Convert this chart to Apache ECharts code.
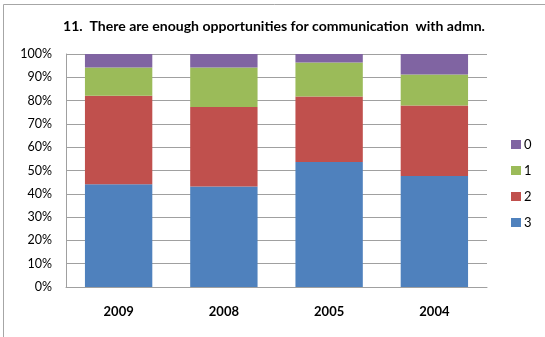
<!DOCTYPE html>
<html><head><meta charset="utf-8">
<script src="https://cdn.jsdelivr.net/npm/echarts@6/dist/echarts.min.js"></script>
<style>html,body{margin:0;padding:0;background:#fff}#c{width:545px;height:337px}</style>
</head><body><div id="c"></div>
<script>
const categories = ['2009', '2008', '2005', '2004'];
const s3 = [44.1, 43.1, 53.6, 47.6];
const s2 = [38.0, 34.1, 28.2, 30.3];
const s1 = [12.1, 17.0, 14.5, 13.3];
const s0 = [5.8, 5.8, 3.7, 8.8];
const yTicks = [0, 10, 20, 30, 40, 50, 60, 70, 80, 90, 100];
const titleText = '11.  There are enough opportunities for communication  with admn.';

const font = 'Lato, "Open Sans", sans-serif';
// fit the title to the reference's width (~422px)
const ctx = document.createElement('canvas').getContext('2d');
ctx.font = 'bold 13px ' + font;
const w13 = ctx.measureText(titleText).width;
const titleSize = Math.max(11, Math.min(15, 13 * 422 / w13));

const chart = echarts.init(document.getElementById('c'));
function mk(name, data, color) {
  return { name, type: 'bar', stack: 'a', data, barWidth: '64%',
    itemStyle: { color }, emphasis: { disabled: true } };
}
chart.setOption({
  animation: false,
  title: { text: titleText, left: 274, top: 19, textAlign: 'center', padding: 0,
    textStyle: { fontFamily: font, fontSize: titleSize, fontWeight: 'bold', color: '#000' } },
  graphic: [{ type: 'rect', shape: { x: 3.5, y: 4.5, width: 600, height: 400 },
    style: { fill: 'none', stroke: '#a6a6a6', lineWidth: 1 }, z: -1 }],
  grid: { left: 66, right: 58, top: 54, bottom: 50 },
  legend: { orient: 'vertical', left: 511, top: 138, padding: 0, itemWidth: 10, itemHeight: 9, itemGap: 13,
    data: ['0', '1', '2', '3'], icon: 'rect',
    textStyle: { fontFamily: font, fontSize: 13, color: '#000', padding: [0, 0, 0, -2] } },
  xAxis: { type: 'category', data: categories,
    axisLine: { lineStyle: { color: '#a0a0a0' } }, axisTick: { show: false },
    axisLabel: { fontFamily: font, fontSize: 13, fontWeight: 'bold', color: '#000', margin: 18 } },
  yAxis: { type: 'value', min: 0, max: 100, interval: 10,
    axisLine: { show: true, lineStyle: { color: '#a0a0a0' } }, axisTick: { show: false },
    splitLine: { lineStyle: { color: '#a0a0a0' } },
    axisLabel: { fontFamily: font, fontSize: 12.5, color: '#000', margin: 14,
      formatter: v => yTicks.includes(v) ? v + '%' : '' } },
  series: [mk('3', s3, '#4F81BD'), mk('2', s2, '#C0504D'), mk('1', s1, '#9BBB59'), mk('0', s0, '#8064A2')]
});
</script></body></html>
